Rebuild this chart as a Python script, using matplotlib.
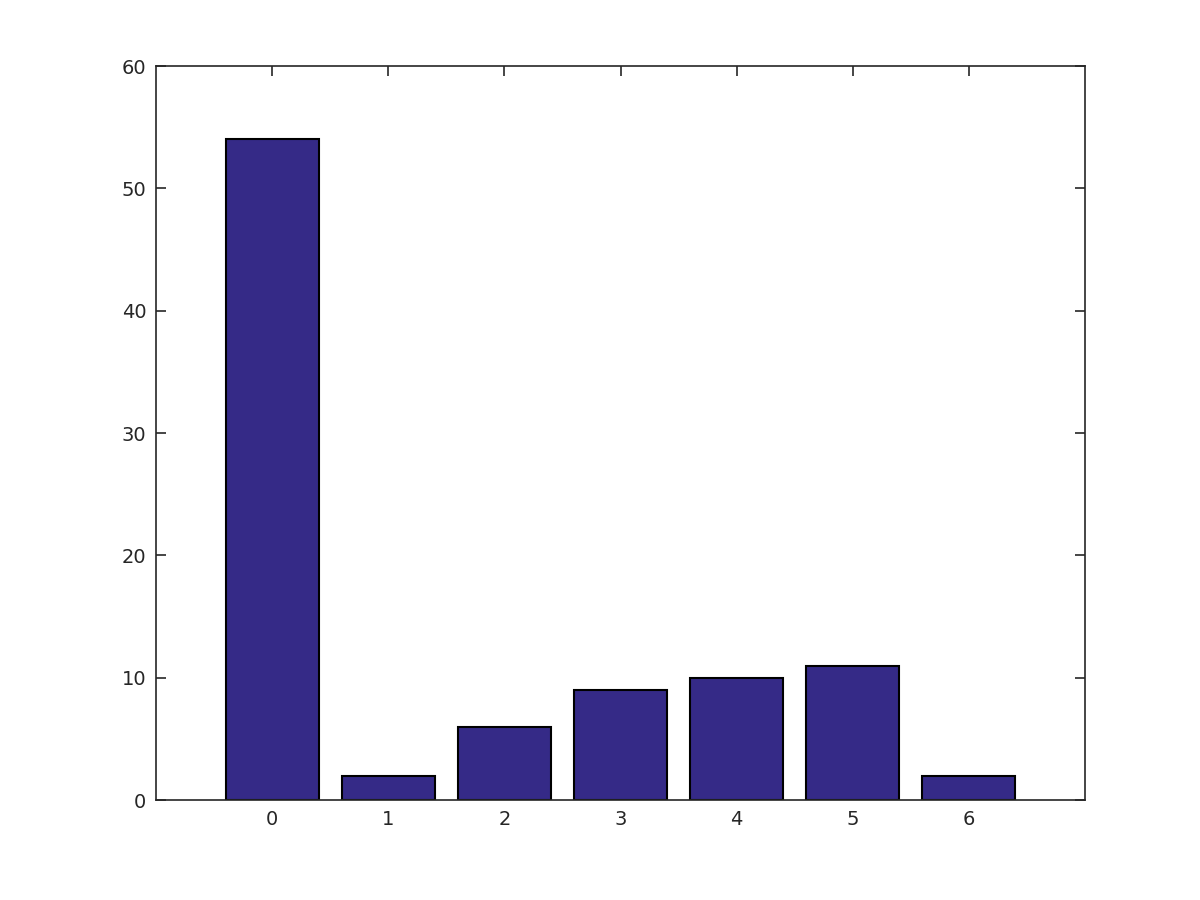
import matplotlib
matplotlib.use('Agg')
import matplotlib.pyplot as plt

# bar data
categories = [0, 1, 2, 3, 4, 5, 6]
counts = [54, 2, 6, 9, 10, 11, 2]

fig = plt.figure(figsize=(12, 9), dpi=100)
ax = fig.add_axes([0.13, 0.111, 0.7742, 0.8156])

ax.bar(categories, counts, width=0.8, color='#352a87', edgecolor='black', linewidth=1.5)

ax.set_xlim(-1, 7)
ax.set_ylim(0, 60)
ax.set_xticks(categories)
ax.set_yticks([0, 10, 20, 30, 40, 50, 60])
ax.set_axisbelow(True)  # bars hide the bottom ticks, like the original

axis_color = '#262626'
for s in ax.spines.values():
    s.set_color(axis_color)
    s.set_linewidth(1.2)
ax.tick_params(direction='in', length=7, width=1.2, colors=axis_color,
               labelsize=14, top=True, right=True, pad=7)

fig.savefig('out.png', dpi=100)
